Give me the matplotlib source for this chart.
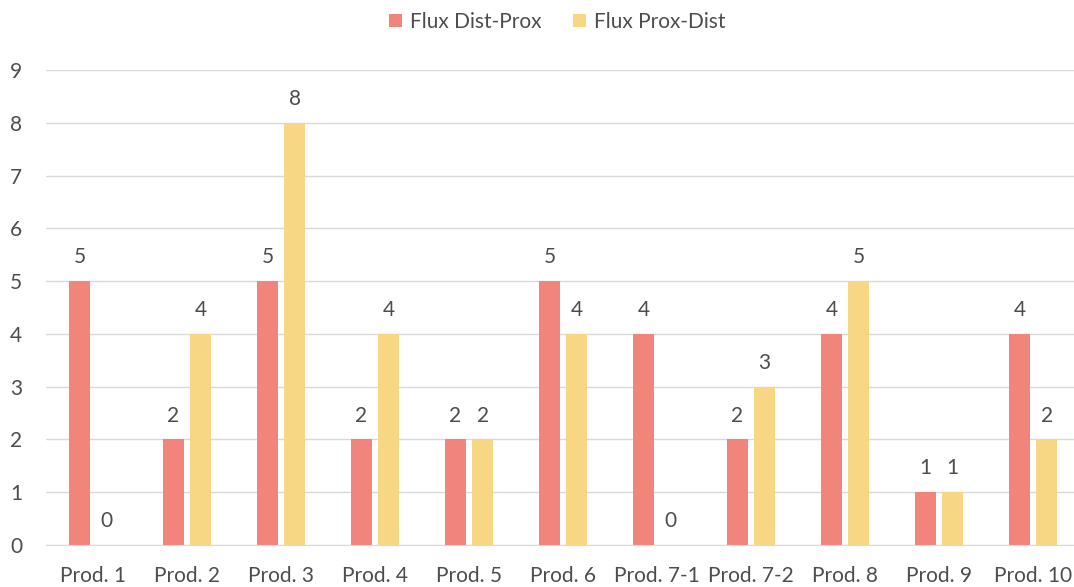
import matplotlib.pyplot as plt
import numpy as np

# =========================
# Data
# =========================
categories = ['Prod. 1', 'Prod. 2', 'Prod. 3', 'Prod. 4', 'Prod. 5', 'Prod. 6',
              'Prod. 7-1', 'Prod. 7-2', 'Prod. 8', 'Prod. 9', 'Prod. 10']
dist_prox = [5, 2, 5, 2, 2, 5, 4, 2, 4, 1, 4]
prox_dist = [0, 4, 8, 4, 2, 4, 0, 3, 5, 1, 2]
series_names = ['Flux Dist-Prox', 'Flux Prox-Dist']
yticks = list(range(0, 10))

# =========================
# Style
# =========================
red = '#F1847B'
yellow = '#F8D784'
text_c = '#4D4D4D'
grid_c = '#D9D9D9'
plt.rcParams['font.family'] = ['Lato', 'DejaVu Sans']

fig = plt.figure(figsize=(10.74, 5.87), dpi=100)
ax = fig.add_axes([46 / 1074, 1 - 545 / 587, 1034 / 1074, (545 - 70) / 587])

x = np.arange(len(categories))
w = 0.222
off = 0.145
b1 = ax.bar(x - off, dist_prox, w, color=red, label=series_names[0])
b2 = ax.bar(x + off, prox_dist, w, color=yellow, label=series_names[1])

for bars in (b1, b2):
    for rect in bars:
        h = rect.get_height()
        ax.annotate('%d' % h, (rect.get_x() + rect.get_width() / 2, h),
                    xytext=(0, 10), textcoords='offset points',
                    ha='center', va='bottom', fontsize=15, color=text_c)

ax.set_xlim(-0.5, len(categories) - 0.5)
ax.set_ylim(0, 9)
ax.set_yticks(yticks)
ax.set_xticks(x)
ax.set_xticklabels(categories)
ax.tick_params(axis='both', length=0, labelsize=15, labelcolor=text_c)
ax.tick_params(axis='y', pad=17)
ax.tick_params(axis='x', pad=15)
ax.grid(axis='y', color=grid_c, linewidth=1)
ax.set_axisbelow(True)
for s in ['top', 'right', 'left']:
    ax.spines[s].set_visible(False)
ax.spines['bottom'].set_color(grid_c)

fig.legend(loc='upper center', bbox_to_anchor=(0.519, 1.012), ncol=2,
           frameon=False, fontsize=15, labelcolor=text_c,
           handlelength=0.6, handleheight=0.6, columnspacing=1.5,
           handletextpad=0.4)

plt.savefig('out.png', dpi=100)
plt.close()
